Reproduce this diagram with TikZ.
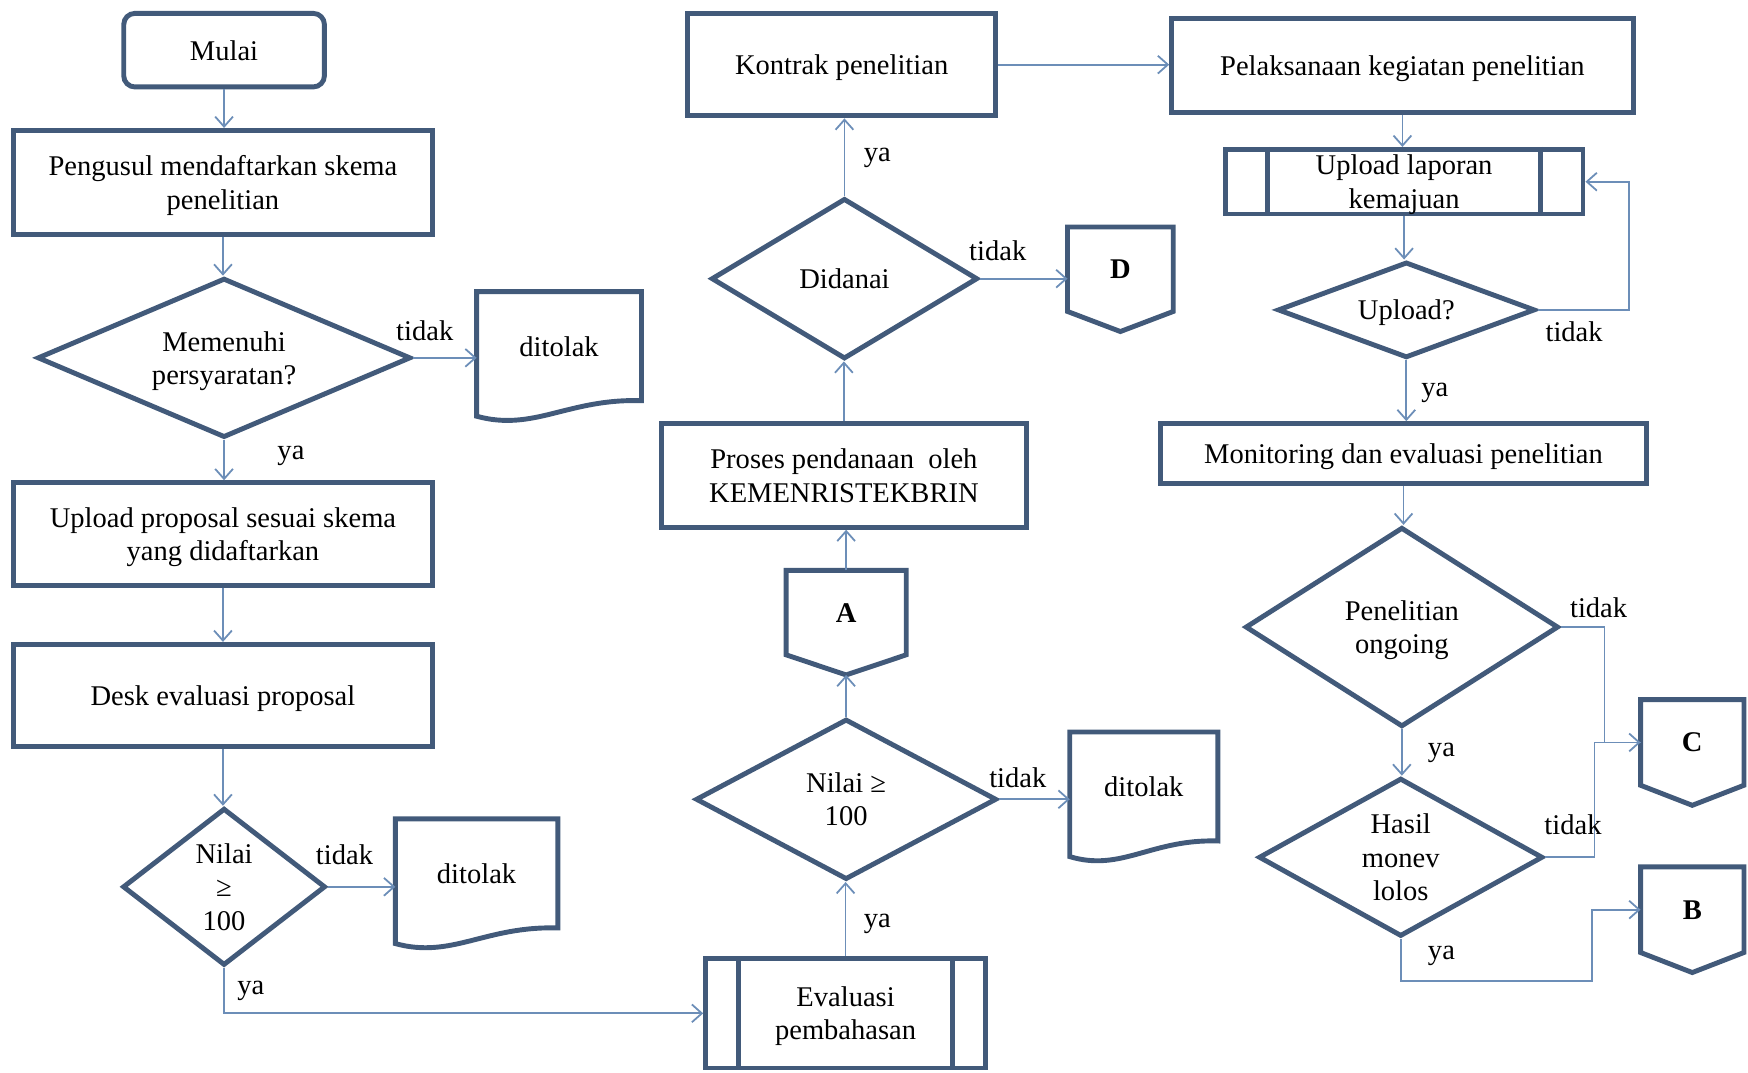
\documentclass[tikz,border=0pt]{standalone}
\usepackage{fontspec}
\setmainfont{Liberation Serif}
\usetikzlibrary{shapes.geometric,arrows.meta,calc}
\definecolor{bord}{RGB}{66,90,122}
\definecolor{conn}{RGB}{108,142,184}
\newcommand\docwave[2]{%
  \draw[bline] (#1.north east) -- (#1.north west) -- ($(#1.south west)+(0,14)$)
    .. controls +(0.35*#2,14) and +(-0.45*#2,-2) .. (#1.south east) -- cycle;}
\newcommand\offpage[1]{%
  \coordinate (#1tip) at ($(#1.south)+(0,18)$);
  \draw[bline] (#1.south west) -- (#1.north west) -- (#1.north east) -- (#1.south east) -- (#1tip) -- cycle;}
\newcommand\predef[2]{%
  \draw[bline] ($(#1.north west)+(#2,0)$) -- ($(#1.south west)+(#2,0)$);
  \draw[bline] ($(#1.north east)+(-#2,0)$) -- ($(#1.south east)+(-#2,0)$);}
\begin{document}
\begin{tikzpicture}[x=0.5pt,y=-0.5pt,
  font=\fontsize{12.8}{15}\selectfont,
  box/.style={rectangle,draw=bord,line width=2.2pt,inner sep=0pt,align=center,text depth=0pt},
  dia/.style={diamond,draw=bord,line width=2.2pt,inner sep=0pt,align=center,text depth=0pt},
  ghost/.style={rectangle,inner sep=0pt,align=center,text depth=0pt},
  bold/.style={font=\fontsize{12.8}{15}\selectfont\bfseries},
  bline/.style={draw=bord,line width=2.2pt,line join=miter},
  arr/.style={draw=conn,line width=0.8pt,-{Straight Barb[length=4.5pt,width=8pt]}},
  lnk/.style={draw=conn,line width=0.8pt},
  lbl/.style={inner sep=0pt}]
\useasboundingbox (0,0) rectangle (1568,962);

% ---------- left column ----------
\node[box,rounded corners=5pt,minimum width=90pt,minimum height=33pt] (mulai) at (201,45) {Mulai};
\node[box,minimum width=188pt,minimum height=46.5pt] (peng) at (200,163.5) {Pengusul mendaftarkan skema\\penelitian};
\node[dia,aspect=2.34,minimum width=167.5pt,minimum height=71.5pt] (mem) at (201,321) {Memenuhi\\persyaratan?};
\node[ghost,minimum width=73.5pt,minimum height=48.5pt] (tolak1) at (501.5,310.5) {ditolak};
\docwave{tolak1}{147}
\node[box,minimum width=188pt,minimum height=46pt] (uprop) at (200,479) {Upload proposal sesuai skema\\yang didaftarkan};
\node[box,minimum width=188pt,minimum height=46pt] (desk) at (200,624) {Desk evaluasi proposal};
\node[dia,aspect=1.29,minimum width=91pt,minimum height=70.5pt] (nilai1) at (201,795.5) {Nilai\\≥\\100};
\node[ghost,minimum width=72.5pt,minimum height=48.5pt] (tolak2) at (427.5,783.5) {ditolak};
\docwave{tolak2}{145}

% ---------- middle column ----------
\node[box,minimum width=125.5pt,minimum height=49pt] (eval) at (758.5,909) {Evaluasi\\pembahasan};
\predef{eval}{32}
\node[dia,aspect=1.875,minimum width=135pt,minimum height=72pt] (nilai2) at (759,717) {Nilai ≥\\100};
\node[ghost,minimum width=66pt,minimum height=48.5pt] (tolak3) at (1026,705.5) {ditolak};
\docwave{tolak3}{132}
\node[ghost,bold,minimum width=53.5pt,minimum height=37.5pt] (A) at (759,549.5) {A};
\offpage{A}
\node[box,minimum width=164pt,minimum height=46.5pt] (proses) at (757,426.5) {Proses pendanaan\ \ oleh\\KEMENRISTEKBRIN};
\node[dia,aspect=1.66,minimum width=119.5pt,minimum height=72pt] (didanai) at (757.5,250) {Didanai};
\node[ghost,bold,minimum width=47pt,minimum height=37.5pt] (D) at (1005,241.5) {D};
\offpage{D}
\node[box,minimum width=138pt,minimum height=46pt] (kontrak) at (755,58) {Kontrak penelitian};

% ---------- right column ----------
\node[box,minimum width=207pt,minimum height=42pt] (pelak) at (1258,59) {Pelaksanaan kegiatan penelitian};
\node[box,minimum width=160.5pt,minimum height=29pt] (uplap) at (1259.5,163) {Upload laporan\\kemajuan};
\predef{uplap}{40}
\node[dia,aspect=2.69,minimum width=115.5pt,minimum height=43pt] (upq) at (1261.5,278) {Upload?};
\node[box,minimum width=218pt,minimum height=27pt] (mon) at (1259,407) {Monitoring dan evaluasi penelitian};
\node[dia,aspect=1.57,minimum width=140.5pt,minimum height=89.5pt] (pen) at (1257.5,562.5) {Penelitian\\ongoing};
\node[dia,aspect=1.8,minimum width=127.5pt,minimum height=71pt] (hasil) at (1256.5,769) {Hasil\\monev\\lolos};
\node[ghost,bold,minimum width=46pt,minimum height=38pt] (C) at (1518,666) {C};
\offpage{C}
\node[ghost,bold,minimum width=46pt,minimum height=38pt] (B) at (1518,816) {B};
\offpage{B}

% ---------- connectors ----------
\draw[arr] (mulai.south) -- (mulai.south |- peng.north);
\draw[arr] (peng.south) -- (peng.south |- mem.north);
\draw[arr] (mem.east) -- (mem.east -| tolak1.west);
\draw[arr] (mem.south) -- (mem.south |- uprop.north);
\draw[arr] (uprop.south) -- (uprop.south |- desk.north);
\draw[arr] (desk.south) -- (desk.south |- nilai1.north);
\draw[arr] (nilai1.east) -- (nilai1.east -| tolak2.west);
\draw[arr] (nilai1.south) |- (eval.west);
\draw[arr] (eval.north) -- (eval.north |- nilai2.south);
\draw[arr] (nilai2.east) -- (nilai2.east -| tolak3.west);
\draw[arr] (nilai2.north) -- (Atip);
\draw[arr] (A.north) -- (A.north |- proses.south);
\draw[arr] (proses.north) -- (proses.north |- didanai.south);
\draw[arr] (didanai.east) -- (didanai.east -| D.west);
\draw[arr] (didanai.north) -- (didanai.north |- kontrak.south);
\draw[arr] (kontrak.east) -- (kontrak.east -| pelak.west);
\draw[arr] (pelak.south) -- (pelak.south |- uplap.north);
\draw[arr] (uplap.south) -- (uplap.south |- upq.north);
\draw[arr] (upq.east) -- ++(82,0) |- (uplap.east);
\draw[arr] (upq.south) -- (upq.south |- mon.north);
\draw[arr] (mon.south) -- (mon.south |- pen.north);
\draw[arr] (pen.east) -- ++(39,0) |- (C.west);
\draw[arr] (pen.south) -- (pen.south |- hasil.north);
\draw[lnk] (hasil.east) -- ++(44,0) |- (C.west);
\coordinate (bj) at (1428,880);
\draw[arr] (hasil.south) |- (bj) |- (B.west);

% ---------- labels ----------
\node[lbl] (t1) at (381,297) {tidak};
\node[lbl] (y1) at (261,409) {ya};
\node[lbl] (t2) at (309,767) {tidak};
\node[lbl] (y2) at (225,889) {ya};
\node[lbl] (y3) at (787,829) {ya};
\node[lbl] (t3) at (913,698) {tidak};
\node[lbl] (t4) at (895,225) {tidak};
\node[lbl] (y4) at (787,142) {ya};
\node[lbl] (t5) at (1412,298) {tidak};
\node[lbl] (y5) at (1287,352) {ya};
\node[lbl] (t6) at (1434,545) {tidak};
\node[lbl] (y6) at (1293,675) {ya};
\node[lbl] (t7) at (1411,740) {tidak};
\node[lbl] (y7) at (1293,857) {ya};
\end{tikzpicture}
\end{document}
